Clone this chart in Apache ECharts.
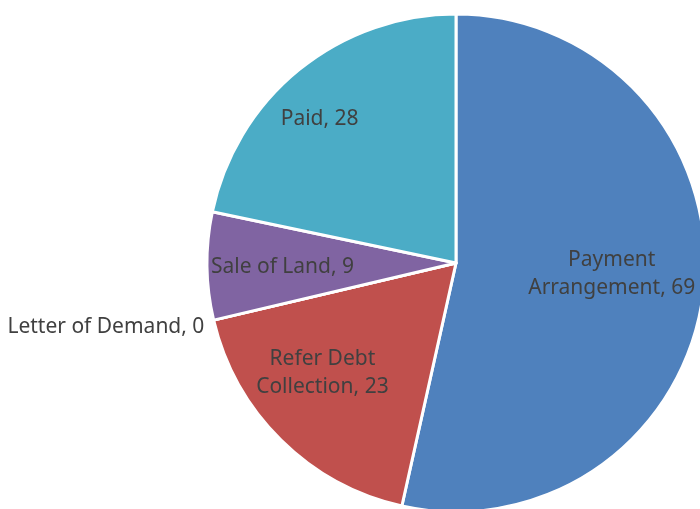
<!DOCTYPE html>
<html>
<head>
<meta charset="utf-8">
<script src="https://cdn.jsdelivr.net/npm/echarts@6/dist/echarts.min.js"></script>
<style>
html, body { margin: 0; padding: 0; background: #fff; }
#pie { width: 700px; height: 509px; }
</style>
</head>
<body>
<div id="pie"></div>
<script>
// data
var categories = ['Payment Arrangement', 'Refer Debt Collection', 'Letter of Demand', 'Sale of Land', 'Paid'];
var values = [69, 23, 0, 9, 28];
var colors = ['#4F81BD', '#C0504D', '#9BBB59', '#8064A2', '#4BACC6'];

// words on first label line (0 = single line)
var firstLineWords = [1, 2, 0, 0, 0];
// nudges from the default inside label spot
var labelShift = [[29, -3], [-44, 19], [-226, 35], [-46, 2], [-56, -45]];

var myChart = echarts.init(document.getElementById('pie'));
var option = {
    animation: false,
    color: colors,
    series: [{
        type: 'pie',
        center: [456, 263],
        radius: 249,
        startAngle: 90,
        clockwise: true,
        avoidLabelOverlap: false,
        itemStyle: {
            borderColor: '#fff',
            borderWidth: 3
        },
        label: {
            show: true,
            position: 'inside',
            color: '#404040',
            fontFamily: 'Noto Sans',
            fontSize: 21,
            lineHeight: 28,
            formatter: function (p) {
                var words = p.name.split(' ');
                var n = firstLineWords[p.dataIndex];
                var text = n > 0 ? words.slice(0, n).join(' ') + '\n' + words.slice(n).join(' ') : p.name;
                return text + ', ' + p.value;
            }
        },
        labelLine: { show: false },
        labelLayout: function (params) {
            var s = labelShift[params.dataIndex];
            return { dx: s[0], dy: s[1] };
        },
        emphasis: { disabled: true },
        data: categories.map(function (c, i) {
            return { name: c, value: values[i] };
        })
    }]
};
myChart.setOption(option);
</script>
</body>
</html>
